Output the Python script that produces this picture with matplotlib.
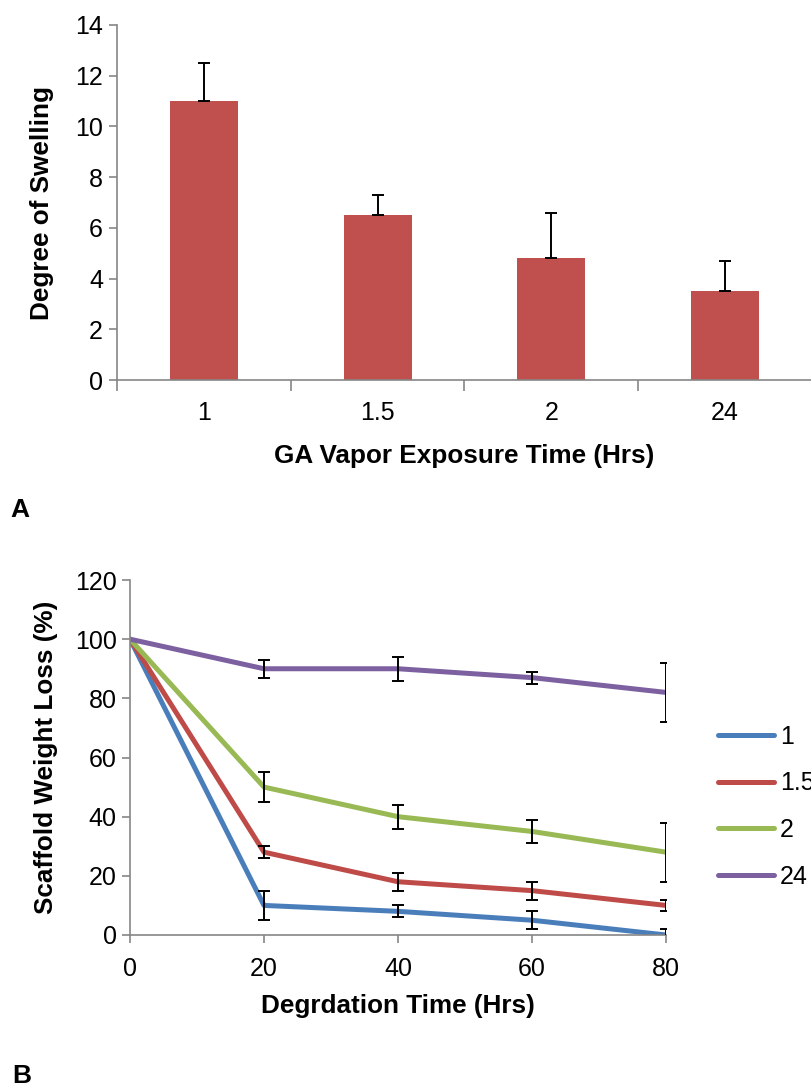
import numpy as np
import matplotlib.pyplot as plt

# Data - panel A
ga_times = ['1', '1.5', '2', '24']
swelling = [11.0, 6.5, 4.8, 3.5]
swelling_err = [1.5, 0.8, 1.8, 1.2]

# Data - panel B
deg_time = [0, 20, 40, 60, 80]
loss_1 = [100, 10, 8, 5, 0]
loss_1_err = [0, 5, 2, 3, 2]
loss_15 = [100, 28, 18, 15, 10]
loss_15_err = [0, 2, 3, 3, 2]
loss_2 = [100, 50, 40, 35, 28]
loss_2_err = [0, 5, 4, 4, 10]
loss_24 = [100, 90, 90, 87, 82]
loss_24_err = [0, 3, 4, 2, 10]

plt.rcParams['font.family'] = ['Liberation Sans', 'DejaVu Sans']

axis_col = '#868686'
bar_col = '#C0504D'
line_cols = ['#4A7EBB', '#BE4B48', '#98B954', '#7D60A0']
tick_fs = 18
label_fs = 18.8

fig = plt.figure(figsize=(8.12, 10.88), dpi=100)

# ---- Panel A ----
ax1 = fig.add_axes([117/812, 1-380/1088, 1-117/812, (380-25)/1088])
x = np.arange(len(ga_times))
ax1.bar(x, swelling, width=0.39, color=bar_col, zorder=2)
ax1.errorbar(x, swelling, yerr=[np.zeros(len(x)), swelling_err], fmt='none',
             ecolor='black', elinewidth=1.4, capsize=4, capthick=1.4, zorder=3)
ax1.set_xlim(-0.5, 3.5)
ax1.set_ylim(0, 14)
ax1.set_yticks(range(0, 15, 2))
ax1.set_xticks(x)
ax1.set_xticklabels(ga_times)
ax1.set_xticks(np.arange(-0.5, 4, 1), minor=True)
ax1.tick_params(axis='x', which='major', length=0, pad=15, labelsize=tick_fs)
ax1.tick_params(axis='x', which='minor', length=8, color=axis_col, width=1.2)
ax1.tick_params(axis='y', length=6, color=axis_col, width=1.2, pad=4, labelsize=tick_fs)
for s in ['top', 'right']:
    ax1.spines[s].set_visible(False)
for s in ['left', 'bottom']:
    ax1.spines[s].set_color(axis_col)
    ax1.spines[s].set_linewidth(1.2)
ax1.set_ylabel('Degree of Swelling', fontsize=label_fs, fontweight='bold', labelpad=15)
ax1.set_xlabel('GA Vapor Exposure Time (Hrs)', fontsize=label_fs, fontweight='bold', labelpad=14)
fig.text(10/812, 1-510/1088, 'A', fontsize=19, fontweight='bold', va='center')

# ---- Panel B ----
ax2 = fig.add_axes([130/812, 1-935/1088, (666-130)/812, (935-580)/1088])
series = [(loss_1, loss_1_err, '1'), (loss_15, loss_15_err, '1.5'),
          (loss_2, loss_2_err, '2'), (loss_24, loss_24_err, '24')]
handles = []
for (vals, errs, lab), c in zip(series, line_cols):
    h, = ax2.plot(deg_time, vals, color=c, lw=3.6, label=lab, zorder=2,
                  solid_capstyle='round')
    ax2.errorbar(deg_time[1:], vals[1:], yerr=errs[1:], fmt='none', ecolor='black',
                 elinewidth=1.4, capsize=4, capthick=1.4, zorder=3)
    handles.append(h)
ax2.set_xlim(0, 80)
ax2.set_ylim(0, 120)
ax2.set_xticks(deg_time)
ax2.set_yticks(range(0, 121, 20))
ax2.tick_params(axis='both', length=6, color=axis_col, width=1.2, labelsize=tick_fs)
ax2.tick_params(axis='x', pad=10)
for s in ['top', 'right']:
    ax2.spines[s].set_visible(False)
for s in ['left', 'bottom']:
    ax2.spines[s].set_color(axis_col)
    ax2.spines[s].set_linewidth(1.2)
ax2.set_ylabel('Scaffold Weight Loss (%)', fontsize=label_fs, fontweight='bold', labelpad=12)
ax2.set_xlabel('Degrdation Time (Hrs)', fontsize=label_fs, fontweight='bold', labelpad=9)
leg = fig.legend(handles=handles, loc='upper left', bbox_to_anchor=(718/812, 1-725/1088),
                 frameon=False, fontsize=tick_fs, handlelength=2.24, handletextpad=0.24,
                 labelspacing=0.9, borderaxespad=0, borderpad=0)
fig.text(12/812, 1-1076/1088, 'B', fontsize=19, fontweight='bold', va='center')

fig.savefig('out.png', dpi=100)
